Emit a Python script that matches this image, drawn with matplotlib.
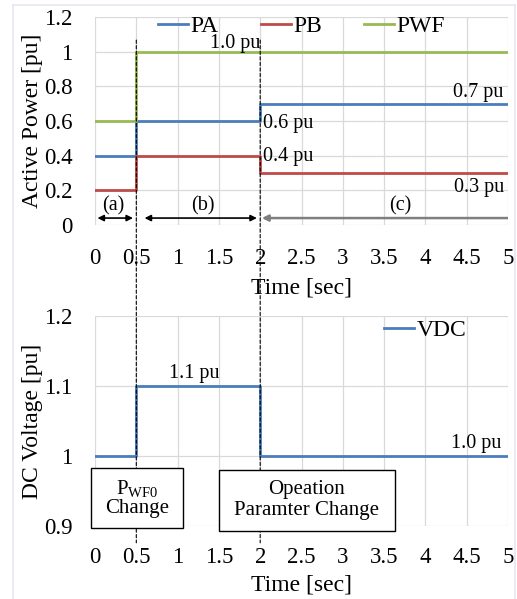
import matplotlib
matplotlib.use("Agg")
import matplotlib.pyplot as plt
from matplotlib.patches import Rectangle, ConnectionPatch, FancyArrowPatch
from matplotlib.lines import Line2D

plt.rcParams['font.family'] = ['Liberation Serif', 'DejaVu Serif']
plt.rcParams['mathtext.fontset'] = 'custom'
plt.rcParams['mathtext.rm'] = 'Liberation Serif'
plt.rcParams['mathtext.it'] = 'Liberation Serif:italic'

# ---- data ----
time = [0, 0.5, 2, 5]
pa = [0.4, 0.6, 0.7, 0.7]
pb = [0.2, 0.4, 0.3, 0.3]
pwf = [0.6, 1.0, 1.0, 1.0]
vdc = [1.0, 1.1, 1.0, 1.0]
event_times = [0.5, 2]

x_ticks = [0, 0.5, 1, 1.5, 2, 2.5, 3, 3.5, 4, 4.5, 5]
x_tick_labels = ['0', '0.5', '1', '1.5', '2', '2.5', '3', '3.5', '4', '4.5', '5']
p_ticks = [0, 0.2, 0.4, 0.6, 0.8, 1.0, 1.2]
p_tick_labels = ['0', '0.2', '0.4', '0.6', '0.8', '1', '1.2']
v_ticks = [0.9, 1.0, 1.1, 1.2]
v_tick_labels = ['0.9', '1', '1.1', '1.2']

BLUE = '#4A7EBB'
RED = '#BE4B48'
GREEN = '#98B954'
GRID = '#D9D9D9'

TICK_FS = 16.5
LABEL_FS = 17
LEG_FS = 17
ANN_FS = 14.5
BOX_FS = 15

fig = plt.figure(figsize=(5.17, 5.99), dpi=100)
fig.patch.set_facecolor('white')

# light frame around the whole figure
W, H = 517.0, 599.0
frame_kw = dict(color='#E4E9F0', lw=1.2, transform=fig.transFigure)
fig.add_artist(Line2D([13 / W, 13 / W], [0, 1 - 5 / H], **frame_kw))
fig.add_artist(Line2D([13 / W, 515 / W], [1 - 5 / H, 1 - 5 / H], **frame_kw))
fig.add_artist(Line2D([515 / W, 515 / W], [0, 1 - 5 / H], **frame_kw))

ax1 = fig.add_axes([95 / W, 1 - 225 / H, 413 / W, 208 / H])
ax2 = fig.add_axes([95 / W, 1 - 526 / H, 413 / W, 210 / H])


def style_axes(ax, yticks, ylabels, ylim, xpad):
    ax.set_xlim(0, 5)
    ax.set_ylim(*ylim)
    ax.set_xticks(x_ticks)
    ax.set_xticklabels(x_tick_labels, fontsize=TICK_FS)
    ax.set_yticks(yticks)
    ax.set_yticklabels(ylabels, fontsize=TICK_FS)
    ax.tick_params(length=0)
    ax.tick_params(axis='y', pad=16)
    ax.tick_params(axis='x', pad=xpad)
    for s in ax.spines.values():
        s.set_visible(False)
    ax.grid(True, color=GRID, lw=0.9)
    ax.set_axisbelow(True)


style_axes(ax1, p_ticks, p_tick_labels, (0, 1.2), 16.5)
style_axes(ax2, v_ticks, v_tick_labels, (0.9, 1.2), 15)

# ---- active power ----
ax1.plot(time, pa, drawstyle='steps-post', color=BLUE, lw=2, label='PA', zorder=3)
ax1.plot(time, pb, drawstyle='steps-post', color=RED, lw=2, label='PB', zorder=3)
ax1.plot(time, pwf, drawstyle='steps-post', color=GREEN, lw=2, label='PWF', zorder=3)
ax1.legend(loc='center', bbox_to_anchor=(0.5, 0.955), ncol=3, frameon=False,
           fontsize=LEG_FS, handlelength=1.27, handletextpad=0.1,
           columnspacing=1.8, borderpad=0, borderaxespad=0)

ax1.text(1.7, 1.05, '1.0 pu', fontsize=ANN_FS, ha='center', va='center')
ax1.text(4.94, 0.765, '0.7 pu', fontsize=ANN_FS, ha='right', va='center')
ax1.text(2.03, 0.585, '0.6 pu', fontsize=ANN_FS, ha='left', va='center')
ax1.text(2.03, 0.395, '0.4 pu', fontsize=ANN_FS, ha='left', va='center')
ax1.text(4.95, 0.215, '0.3 pu', fontsize=ANN_FS, ha='right', va='center')

# interval markers
arrow_y = 0.04
ax1.add_patch(FancyArrowPatch((0.03, arrow_y), (0.46, arrow_y), arrowstyle='<|-|>',
                              mutation_scale=9, color='black', lw=1.2,
                              shrinkA=0, shrinkB=0, zorder=4))
ax1.add_patch(FancyArrowPatch((0.6, arrow_y), (1.96, arrow_y), arrowstyle='<|-|>',
                              mutation_scale=9, color='black', lw=1.2,
                              shrinkA=0, shrinkB=0, zorder=4))
ax1.add_patch(FancyArrowPatch((2.02, arrow_y), (5.0, arrow_y), arrowstyle='<|-',
                              mutation_scale=9, color='#7F7F7F', lw=1.8,
                              shrinkA=0, shrinkB=0, zorder=4))
ax1.text(0.22, 0.11, '(a)', fontsize=ANN_FS, ha='center', va='center')
ax1.text(1.3, 0.11, '(b)', fontsize=ANN_FS, ha='center', va='center')
ax1.text(3.7, 0.11, '(c)', fontsize=ANN_FS, ha='center', va='center')

ax1.set_xlabel('Time [sec]', fontsize=LABEL_FS)
ax1.xaxis.set_label_coords(0.5, -0.25)
ax1.set_ylabel('Active Power [pu]', fontsize=LABEL_FS)
ax1.yaxis.set_label_coords(-0.126, 0.5)

# ---- DC voltage ----
ax2.plot(time, vdc, drawstyle='steps-post', color=BLUE, lw=2, label='VDC', zorder=3)
ax2.legend(loc='center left', bbox_to_anchor=(0.70, 0.933), frameon=False,
           fontsize=LEG_FS, handlelength=1.27, handletextpad=0.1,
           borderpad=0, borderaxespad=0)

ax2.text(1.2, 1.104, '1.1 pu', fontsize=ANN_FS, ha='center', va='bottom')
ax2.text(4.92, 1.004, '1.0 pu', fontsize=ANN_FS, ha='right', va='bottom')

ax2.set_xlabel('Time [sec]', fontsize=LABEL_FS)
ax2.xaxis.set_label_coords(0.5, -0.233)
ax2.set_ylabel('DC Voltage [pu]', fontsize=LABEL_FS)
ax2.yaxis.set_label_coords(-0.126, 0.5)

# dashed event markers spanning both panels
for t in event_times:
    con = ConnectionPatch(xyA=(t, 1.067), coordsA=ax1.transData,
                          xyB=(t, 0.876), coordsB=ax2.transData,
                          color='black', lw=0.8, linestyle=(0, (3, 2)), zorder=7)
    fig.add_artist(con)

# event callout boxes, drawn above the dashed markers
fig.add_artist(Rectangle((-0.05, 0.897), 1.115, 0.086, transform=ax2.transData,
                         facecolor='white', edgecolor='black', lw=1, zorder=8))
fig.text(0.5075, 0.94, 'P$_{\\mathrm{WF0}}$\nChange', transform=ax2.transData,
         fontsize=BOX_FS, ha='center', va='center', zorder=9, linespacing=1.05)
fig.add_artist(Rectangle((1.5, 0.893), 2.13, 0.087, transform=ax2.transData,
                         facecolor='white', edgecolor='black', lw=1, zorder=8))
fig.text(2.565, 0.937, 'Opeation\nParamter Change', transform=ax2.transData,
         fontsize=BOX_FS, ha='center', va='center', zorder=9, linespacing=1.15)

fig.savefig('out.png', dpi=100, facecolor='white')
